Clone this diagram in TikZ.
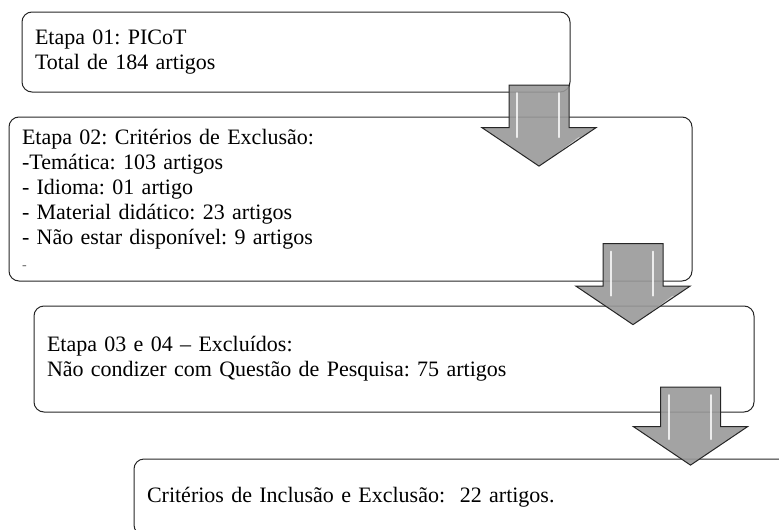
\documentclass[tikz,border=0pt]{standalone}
\usepackage{fontspec}
\setmainfont{Liberation Serif}
\usetikzlibrary{shapes.arrows,calc}
\frenchspacing

\begin{document}
\begin{tikzpicture}[x=1pt,y=-1pt,font=\fontsize{22}{25}\selectfont]
  \tikzset{etapa/.style={draw=black!85,line width=1pt,rounded corners=10pt,align=left,inner xsep=13pt,inner ysep=0pt},
           seta/.style={single arrow,shape border rotate=270,draw=black!85,fill=gray!80,fill opacity=.9,line width=1pt,
                        inner xsep=29.5pt,inner ysep=0pt,minimum width=113pt,minimum height=81pt,single arrow head extend=27pt,single arrow tip angle=112,
                        path picture={
                          \draw[white,opacity=.8,line width=2pt,line cap=round] ($(path picture bounding box.north west)+(35,8)$) -- ++(0,44);
                          \draw[white,opacity=.8,line width=2pt,line cap=round] ($(path picture bounding box.north west)+(77,8)$) -- ++(0,44);
                          \draw[white,opacity=.5,line width=2pt,line cap=round] ($(path picture bounding box.north west)+(97,53)$) -- ++(-26,20);
                        }}}
  \useasboundingbox (0,0) rectangle (779,530);

  \node[etapa,text width=522pt,minimum height=80pt]  (e1) at (296,52)    {Etapa 01: PICoT\\Total de 184 artigos};
  \node[etapa,text width=657pt,minimum height=164pt] (e2) at (350.5,199) {Etapa 02: Critérios de Exclusão:\\-Temática: 103 artigos\\- Idioma: 01 artigo\\- Material didático: 23 artigos\\- Não estar disponível: 9 artigos\\{\fontsize{14}{25}\selectfont\color{black!60}-}};
  \node[etapa,text width=694pt,minimum height=106pt] (e3) at (394,359)   {Etapa 03 e 04 -- Excluídos:\\Não condizer com Questão de Pesquisa: 75 artigos};
  \node[etapa,text width=640pt,minimum height=76pt]  (e4) at (467,497)   {Critérios de Inclusão e Exclusão:\ \ 22 artigos.};

  \node[seta] (s1) at (539,115.5) {};
  \node[seta] (s2) at (633,274)   {};
  \node[seta,minimum height=78pt] (s3) at (690.5,416) {};
\end{tikzpicture}
\end{document}
